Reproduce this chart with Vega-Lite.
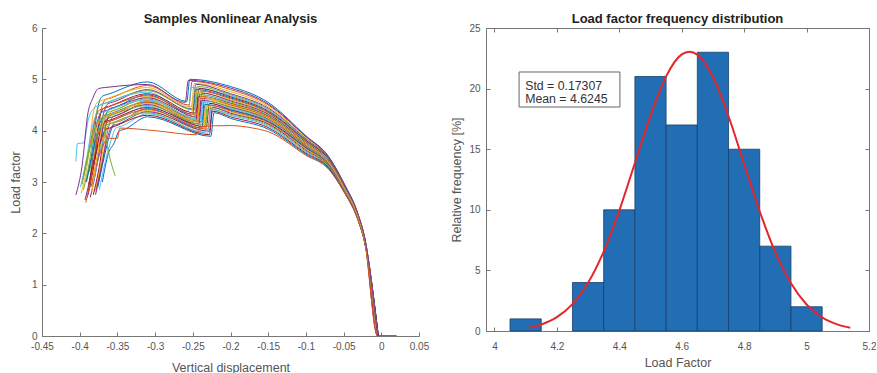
{
"$schema": "https://vega.github.io/schema/vega-lite/v6.json",
"background": "white",
"padding": {"left": 9, "top": 13, "right": 0, "bottom": 0},
"spacing": 67,
"bounds": "flush",
"config": {
  "font": "Liberation Sans",
  "view": {"stroke": null},
  "axis": {"grid": false, "labelFont": "Liberation Sans", "labelFontSize": 10, "labelColor": "#555", "titleFont": "Liberation Sans", "titleFontSize": 12.5, "titleFontWeight": "normal", "titleColor": "#555", "domainColor": "#777", "tickColor": "#777", "tickSize": -4, "labelFlush": false, "labelOverlap": false},
  "title": {"font": "Liberation Sans", "fontSize": 13, "fontWeight": "bold", "color": "#222", "offset": -3}
},
"datasets": {
"curves": [
{"s":1,"x":-0.392,"y":3.0},{"s":1,"x":-0.384,"y":3.55},{"s":1,"x":-0.376,"y":4.45},{"s":1,"x":-0.37,"y":4.67},{"s":1,"x":-0.362,"y":4.71},{"s":1,"x":-0.31,"y":4.95},{"s":1,"x":-0.258,"y":4.57},{"s":1,"x":-0.254,"y":5.0},{"s":1,"x":-0.2,"y":4.86},{"s":1,"x":-0.15,"y":4.55},{"s":1,"x":-0.1,"y":3.9},{"s":1,"x":-0.07,"y":3.5},{"s":1,"x":-0.05,"y":2.99},{"s":1,"x":-0.03,"y":2.34},{"s":1,"x":-0.022,"y":1.92},{"s":1,"x":-0.005,"y":0},
{"s":2,"x":-0.388,"y":2.9},{"s":2,"x":-0.38,"y":3.45},{"s":2,"x":-0.372,"y":4.38},{"s":2,"x":-0.366,"y":4.6},{"s":2,"x":-0.358,"y":4.64},{"s":2,"x":-0.31,"y":4.88},{"s":2,"x":-0.255,"y":4.5},{"s":2,"x":-0.251,"y":4.96},{"s":2,"x":-0.2,"y":4.8},{"s":2,"x":-0.15,"y":4.5},{"s":2,"x":-0.1,"y":3.88},{"s":2,"x":-0.07,"y":3.48},{"s":2,"x":-0.05,"y":2.97},{"s":2,"x":-0.03,"y":2.33},{"s":2,"x":-0.022,"y":1.9},{"s":2,"x":-0.004,"y":0},
{"s":3,"x":-0.398,"y":2.78},{"s":3,"x":-0.39,"y":3.33},{"s":3,"x":-0.382,"y":4.34},{"s":3,"x":-0.376,"y":4.56},{"s":3,"x":-0.368,"y":4.6},{"s":3,"x":-0.31,"y":4.84},{"s":3,"x":-0.252,"y":4.46},{"s":3,"x":-0.248,"y":4.92},{"s":3,"x":-0.2,"y":4.76},{"s":3,"x":-0.15,"y":4.47},{"s":3,"x":-0.1,"y":3.86},{"s":3,"x":-0.07,"y":3.47},{"s":3,"x":-0.05,"y":2.96},{"s":3,"x":-0.03,"y":2.32},{"s":3,"x":-0.022,"y":1.9},{"s":3,"x":-0.005,"y":0},
{"s":4,"x":-0.385,"y":3.1},{"s":4,"x":-0.377,"y":3.65},{"s":4,"x":-0.369,"y":4.3},{"s":4,"x":-0.363,"y":4.52},{"s":4,"x":-0.355,"y":4.56},{"s":4,"x":-0.31,"y":4.8},{"s":4,"x":-0.25,"y":4.42},{"s":4,"x":-0.246,"y":4.9},{"s":4,"x":-0.2,"y":4.72},{"s":4,"x":-0.15,"y":4.44},{"s":4,"x":-0.1,"y":3.84},{"s":4,"x":-0.07,"y":3.46},{"s":4,"x":-0.05,"y":2.95},{"s":4,"x":-0.03,"y":2.31},{"s":4,"x":-0.022,"y":1.89},{"s":4,"x":-0.004,"y":0},
{"s":5,"x":-0.395,"y":2.85},{"s":5,"x":-0.387,"y":3.4},{"s":5,"x":-0.379,"y":4.28},{"s":5,"x":-0.373,"y":4.5},{"s":5,"x":-0.365,"y":4.54},{"s":5,"x":-0.31,"y":4.78},{"s":5,"x":-0.248,"y":4.4},{"s":5,"x":-0.244,"y":4.86},{"s":5,"x":-0.2,"y":4.7},{"s":5,"x":-0.15,"y":4.42},{"s":5,"x":-0.1,"y":3.83},{"s":5,"x":-0.07,"y":3.45},{"s":5,"x":-0.05,"y":2.95},{"s":5,"x":-0.03,"y":2.31},{"s":5,"x":-0.022,"y":1.89},{"s":5,"x":-0.005,"y":0},
{"s":6,"x":-0.405,"y":3.4},{"s":6,"x":-0.403,"y":3.75},{"s":6,"x":-0.395,"y":3.76},{"s":6,"x":-0.388,"y":4.25},{"s":6,"x":-0.38,"y":4.45},{"s":6,"x":-0.372,"y":4.5},{"s":6,"x":-0.31,"y":4.75},{"s":6,"x":-0.256,"y":4.37},{"s":6,"x":-0.252,"y":4.84},{"s":6,"x":-0.2,"y":4.68},{"s":6,"x":-0.15,"y":4.4},{"s":6,"x":-0.1,"y":3.82},{"s":6,"x":-0.07,"y":3.44},{"s":6,"x":-0.05,"y":2.94},{"s":6,"x":-0.03,"y":2.3},{"s":6,"x":-0.022,"y":1.88},{"s":6,"x":-0.006,"y":0},
{"s":7,"x":-0.39,"y":2.7},{"s":7,"x":-0.382,"y":3.25},{"s":7,"x":-0.374,"y":4.22},{"s":7,"x":-0.368,"y":4.44},{"s":7,"x":-0.36,"y":4.48},{"s":7,"x":-0.31,"y":4.72},{"s":7,"x":-0.246,"y":4.34},{"s":7,"x":-0.242,"y":4.82},{"s":7,"x":-0.2,"y":4.66},{"s":7,"x":-0.15,"y":4.38},{"s":7,"x":-0.1,"y":3.81},{"s":7,"x":-0.07,"y":3.44},{"s":7,"x":-0.05,"y":2.94},{"s":7,"x":-0.03,"y":2.3},{"s":7,"x":-0.022,"y":1.88},{"s":7,"x":-0.004,"y":0},{"s":7,"x":0.02,"y":0},
{"s":8,"x":-0.383,"y":2.95},{"s":8,"x":-0.375,"y":3.5},{"s":8,"x":-0.367,"y":4.2},{"s":8,"x":-0.361,"y":4.42},{"s":8,"x":-0.353,"y":4.46},{"s":8,"x":-0.31,"y":4.7},{"s":8,"x":-0.25,"y":4.32},{"s":8,"x":-0.246,"y":4.8},{"s":8,"x":-0.2,"y":4.64},{"s":8,"x":-0.15,"y":4.36},{"s":8,"x":-0.1,"y":3.8},{"s":8,"x":-0.07,"y":3.43},{"s":8,"x":-0.05,"y":2.93},{"s":8,"x":-0.03,"y":2.3},{"s":8,"x":-0.022,"y":1.88},{"s":8,"x":-0.005,"y":0},
{"s":9,"x":-0.396,"y":3.05},{"s":9,"x":-0.388,"y":3.6},{"s":9,"x":-0.38,"y":4.18},{"s":9,"x":-0.374,"y":4.4},{"s":9,"x":-0.366,"y":4.44},{"s":9,"x":-0.31,"y":4.68},{"s":9,"x":-0.244,"y":4.3},{"s":9,"x":-0.24,"y":4.77},{"s":9,"x":-0.2,"y":4.62},{"s":9,"x":-0.15,"y":4.35},{"s":9,"x":-0.1,"y":3.79},{"s":9,"x":-0.07,"y":3.42},{"s":9,"x":-0.05,"y":2.93},{"s":9,"x":-0.03,"y":2.29},{"s":9,"x":-0.022,"y":1.87},{"s":9,"x":-0.005,"y":0},
{"s":10,"x":-0.38,"y":2.8},{"s":10,"x":-0.372,"y":3.35},{"s":10,"x":-0.364,"y":4.16},{"s":10,"x":-0.358,"y":4.38},{"s":10,"x":-0.35,"y":4.42},{"s":10,"x":-0.31,"y":4.66},{"s":10,"x":-0.252,"y":4.28},{"s":10,"x":-0.248,"y":4.75},{"s":10,"x":-0.2,"y":4.6},{"s":10,"x":-0.15,"y":4.33},{"s":10,"x":-0.1,"y":3.78},{"s":10,"x":-0.07,"y":3.42},{"s":10,"x":-0.05,"y":2.92},{"s":10,"x":-0.03,"y":2.29},{"s":10,"x":-0.022,"y":1.87},{"s":10,"x":-0.004,"y":0},
{"s":11,"x":-0.393,"y":2.65},{"s":11,"x":-0.385,"y":3.2},{"s":11,"x":-0.377,"y":4.14},{"s":11,"x":-0.371,"y":4.36},{"s":11,"x":-0.363,"y":4.4},{"s":11,"x":-0.31,"y":4.64},{"s":11,"x":-0.242,"y":4.26},{"s":11,"x":-0.238,"y":4.73},{"s":11,"x":-0.2,"y":4.58},{"s":11,"x":-0.15,"y":4.32},{"s":11,"x":-0.1,"y":3.77},{"s":11,"x":-0.07,"y":3.41},{"s":11,"x":-0.05,"y":2.92},{"s":11,"x":-0.03,"y":2.29},{"s":11,"x":-0.022,"y":1.87},{"s":11,"x":-0.005,"y":0},
{"s":12,"x":-0.387,"y":3.2},{"s":12,"x":-0.379,"y":3.75},{"s":12,"x":-0.371,"y":4.12},{"s":12,"x":-0.365,"y":4.34},{"s":12,"x":-0.357,"y":4.38},{"s":12,"x":-0.31,"y":4.62},{"s":12,"x":-0.248,"y":4.24},{"s":12,"x":-0.244,"y":4.71},{"s":12,"x":-0.2,"y":4.56},{"s":12,"x":-0.15,"y":4.3},{"s":12,"x":-0.1,"y":3.76},{"s":12,"x":-0.07,"y":3.4},{"s":12,"x":-0.05,"y":2.91},{"s":12,"x":-0.03,"y":2.28},{"s":12,"x":-0.022,"y":1.87},{"s":12,"x":-0.006,"y":0},
{"s":13,"x":-0.399,"y":2.9},{"s":13,"x":-0.391,"y":3.45},{"s":13,"x":-0.383,"y":4.1},{"s":13,"x":-0.377,"y":4.32},{"s":13,"x":-0.369,"y":4.36},{"s":13,"x":-0.31,"y":4.6},{"s":13,"x":-0.24,"y":4.22},{"s":13,"x":-0.236,"y":4.69},{"s":13,"x":-0.2,"y":4.54},{"s":13,"x":-0.15,"y":4.29},{"s":13,"x":-0.1,"y":3.75},{"s":13,"x":-0.07,"y":3.4},{"s":13,"x":-0.05,"y":2.91},{"s":13,"x":-0.03,"y":2.28},{"s":13,"x":-0.022,"y":1.86},{"s":13,"x":-0.004,"y":0},
{"s":14,"x":-0.382,"y":2.75},{"s":14,"x":-0.374,"y":3.3},{"s":14,"x":-0.366,"y":4.08},{"s":14,"x":-0.36,"y":4.3},{"s":14,"x":-0.352,"y":4.34},{"s":14,"x":-0.31,"y":4.58},{"s":14,"x":-0.246,"y":4.2},{"s":14,"x":-0.242,"y":4.67},{"s":14,"x":-0.2,"y":4.53},{"s":14,"x":-0.15,"y":4.28},{"s":14,"x":-0.1,"y":3.74},{"s":14,"x":-0.07,"y":3.39},{"s":14,"x":-0.05,"y":2.9},{"s":14,"x":-0.03,"y":2.28},{"s":14,"x":-0.022,"y":1.86},{"s":14,"x":-0.005,"y":0},{"s":14,"x":0.02,"y":0},
{"s":15,"x":-0.391,"y":3.0},{"s":15,"x":-0.383,"y":3.55},{"s":15,"x":-0.375,"y":4.06},{"s":15,"x":-0.369,"y":4.28},{"s":15,"x":-0.361,"y":4.32},{"s":15,"x":-0.31,"y":4.56},{"s":15,"x":-0.238,"y":4.18},{"s":15,"x":-0.234,"y":4.65},{"s":15,"x":-0.2,"y":4.51},{"s":15,"x":-0.15,"y":4.26},{"s":15,"x":-0.1,"y":3.73},{"s":15,"x":-0.07,"y":3.38},{"s":15,"x":-0.05,"y":2.9},{"s":15,"x":-0.03,"y":2.27},{"s":15,"x":-0.022,"y":1.86},{"s":15,"x":-0.005,"y":0},
{"s":16,"x":-0.378,"y":2.85},{"s":16,"x":-0.37,"y":3.4},{"s":16,"x":-0.362,"y":4.05},{"s":16,"x":-0.356,"y":4.27},{"s":16,"x":-0.348,"y":4.31},{"s":16,"x":-0.31,"y":4.55},{"s":16,"x":-0.244,"y":4.17},{"s":16,"x":-0.24,"y":4.63},{"s":16,"x":-0.2,"y":4.5},{"s":16,"x":-0.15,"y":4.25},{"s":16,"x":-0.1,"y":3.72},{"s":16,"x":-0.07,"y":3.38},{"s":16,"x":-0.05,"y":2.89},{"s":16,"x":-0.03,"y":2.27},{"s":16,"x":-0.022,"y":1.86},{"s":16,"x":-0.004,"y":0},
{"s":17,"x":-0.394,"y":3.15},{"s":17,"x":-0.386,"y":3.7},{"s":17,"x":-0.378,"y":4.03},{"s":17,"x":-0.372,"y":4.25},{"s":17,"x":-0.364,"y":4.29},{"s":17,"x":-0.31,"y":4.53},{"s":17,"x":-0.236,"y":4.15},{"s":17,"x":-0.232,"y":4.61},{"s":17,"x":-0.2,"y":4.48},{"s":17,"x":-0.15,"y":4.24},{"s":17,"x":-0.1,"y":3.71},{"s":17,"x":-0.07,"y":3.37},{"s":17,"x":-0.05,"y":2.89},{"s":17,"x":-0.03,"y":2.27},{"s":17,"x":-0.022,"y":1.85},{"s":17,"x":-0.005,"y":0},
{"s":18,"x":-0.386,"y":2.7},{"s":18,"x":-0.378,"y":3.25},{"s":18,"x":-0.37,"y":4.01},{"s":18,"x":-0.364,"y":4.23},{"s":18,"x":-0.356,"y":4.27},{"s":18,"x":-0.31,"y":4.51},{"s":18,"x":-0.242,"y":4.13},{"s":18,"x":-0.238,"y":4.59},{"s":18,"x":-0.2,"y":4.46},{"s":18,"x":-0.15,"y":4.22},{"s":18,"x":-0.1,"y":3.7},{"s":18,"x":-0.07,"y":3.36},{"s":18,"x":-0.05,"y":2.88},{"s":18,"x":-0.03,"y":2.26},{"s":18,"x":-0.022,"y":1.85},{"s":18,"x":-0.006,"y":0},
{"s":19,"x":-0.397,"y":2.95},{"s":19,"x":-0.389,"y":3.5},{"s":19,"x":-0.381,"y":3.99},{"s":19,"x":-0.375,"y":4.21},{"s":19,"x":-0.367,"y":4.25},{"s":19,"x":-0.31,"y":4.49},{"s":19,"x":-0.234,"y":4.11},{"s":19,"x":-0.23,"y":4.57},{"s":19,"x":-0.2,"y":4.45},{"s":19,"x":-0.15,"y":4.21},{"s":19,"x":-0.1,"y":3.69},{"s":19,"x":-0.07,"y":3.36},{"s":19,"x":-0.05,"y":2.88},{"s":19,"x":-0.03,"y":2.26},{"s":19,"x":-0.022,"y":1.85},{"s":19,"x":-0.004,"y":0},
{"s":20,"x":-0.381,"y":3.05},{"s":20,"x":-0.373,"y":3.6},{"s":20,"x":-0.365,"y":3.97},{"s":20,"x":-0.359,"y":4.19},{"s":20,"x":-0.351,"y":4.23},{"s":20,"x":-0.31,"y":4.47},{"s":20,"x":-0.24,"y":4.09},{"s":20,"x":-0.236,"y":4.55},{"s":20,"x":-0.2,"y":4.43},{"s":20,"x":-0.15,"y":4.2},{"s":20,"x":-0.1,"y":3.68},{"s":20,"x":-0.07,"y":3.35},{"s":20,"x":-0.05,"y":2.87},{"s":20,"x":-0.03,"y":2.26},{"s":20,"x":-0.022,"y":1.85},{"s":20,"x":-0.005,"y":0},
{"s":21,"x":-0.389,"y":2.8},{"s":21,"x":-0.381,"y":3.35},{"s":21,"x":-0.373,"y":3.95},{"s":21,"x":-0.367,"y":4.17},{"s":21,"x":-0.359,"y":4.21},{"s":21,"x":-0.31,"y":4.45},{"s":21,"x":-0.232,"y":4.07},{"s":21,"x":-0.228,"y":4.53},{"s":21,"x":-0.2,"y":4.41},{"s":21,"x":-0.15,"y":4.18},{"s":21,"x":-0.1,"y":3.67},{"s":21,"x":-0.07,"y":3.34},{"s":21,"x":-0.05,"y":2.87},{"s":21,"x":-0.03,"y":2.25},{"s":21,"x":-0.022,"y":1.84},{"s":21,"x":-0.005,"y":0},
{"s":22,"x":-0.376,"y":2.9},{"s":22,"x":-0.368,"y":3.45},{"s":22,"x":-0.36,"y":3.93},{"s":22,"x":-0.354,"y":4.15},{"s":22,"x":-0.346,"y":4.19},{"s":22,"x":-0.31,"y":4.43},{"s":22,"x":-0.238,"y":4.05},{"s":22,"x":-0.234,"y":4.51},{"s":22,"x":-0.2,"y":4.4},{"s":22,"x":-0.15,"y":4.17},{"s":22,"x":-0.1,"y":3.66},{"s":22,"x":-0.07,"y":3.34},{"s":22,"x":-0.05,"y":2.86},{"s":22,"x":-0.03,"y":2.25},{"s":22,"x":-0.022,"y":1.84},{"s":22,"x":-0.004,"y":0},
{"s":23,"x":-0.392,"y":2.6},{"s":23,"x":-0.384,"y":3.15},{"s":23,"x":-0.376,"y":3.91},{"s":23,"x":-0.37,"y":4.13},{"s":23,"x":-0.362,"y":4.17},{"s":23,"x":-0.31,"y":4.41},{"s":23,"x":-0.23,"y":4.03},{"s":23,"x":-0.226,"y":4.49},{"s":23,"x":-0.2,"y":4.38},{"s":23,"x":-0.15,"y":4.16},{"s":23,"x":-0.1,"y":3.65},{"s":23,"x":-0.07,"y":3.33},{"s":23,"x":-0.05,"y":2.86},{"s":23,"x":-0.03,"y":2.25},{"s":23,"x":-0.022,"y":1.84},{"s":23,"x":-0.005,"y":0},
{"s":24,"x":-0.384,"y":3.0},{"s":24,"x":-0.376,"y":3.55},{"s":24,"x":-0.368,"y":3.89},{"s":24,"x":-0.362,"y":4.11},{"s":24,"x":-0.354,"y":4.15},{"s":24,"x":-0.31,"y":4.39},{"s":24,"x":-0.236,"y":4.01},{"s":24,"x":-0.232,"y":4.47},{"s":24,"x":-0.2,"y":4.36},{"s":24,"x":-0.15,"y":4.14},{"s":24,"x":-0.1,"y":3.64},{"s":24,"x":-0.07,"y":3.32},{"s":24,"x":-0.05,"y":2.85},{"s":24,"x":-0.03,"y":2.24},{"s":24,"x":-0.022,"y":1.84},{"s":24,"x":-0.006,"y":0},
{"s":25,"x":-0.379,"y":2.75},{"s":25,"x":-0.371,"y":3.3},{"s":25,"x":-0.363,"y":3.87},{"s":25,"x":-0.357,"y":4.09},{"s":25,"x":-0.349,"y":4.13},{"s":25,"x":-0.31,"y":4.37},{"s":25,"x":-0.228,"y":3.99},{"s":25,"x":-0.224,"y":4.45},{"s":25,"x":-0.2,"y":4.34},{"s":25,"x":-0.15,"y":4.13},{"s":25,"x":-0.1,"y":3.62},{"s":25,"x":-0.07,"y":3.31},{"s":25,"x":-0.05,"y":2.85},{"s":25,"x":-0.03,"y":2.24},{"s":25,"x":-0.022,"y":1.83},{"s":25,"x":-0.004,"y":0},
{"s":26,"x":-0.395,"y":3.1},{"s":26,"x":-0.387,"y":3.65},{"s":26,"x":-0.379,"y":3.85},{"s":26,"x":-0.373,"y":4.07},{"s":26,"x":-0.365,"y":4.11},{"s":26,"x":-0.31,"y":4.35},{"s":26,"x":-0.234,"y":3.97},{"s":26,"x":-0.23,"y":4.43},{"s":26,"x":-0.2,"y":4.32},{"s":26,"x":-0.15,"y":4.11},{"s":26,"x":-0.1,"y":3.6},{"s":26,"x":-0.07,"y":3.3},{"s":26,"x":-0.05,"y":2.84},{"s":26,"x":-0.03,"y":2.24},{"s":26,"x":-0.022,"y":1.83},{"s":26,"x":-0.005,"y":0},
{"s":27,"x":-0.374,"y":2.85},{"s":27,"x":-0.366,"y":3.4},{"s":27,"x":-0.358,"y":3.83},{"s":27,"x":-0.352,"y":4.05},{"s":27,"x":-0.344,"y":4.09},{"s":27,"x":-0.31,"y":4.33},{"s":27,"x":-0.23,"y":3.95},{"s":27,"x":-0.226,"y":4.41},{"s":27,"x":-0.2,"y":4.3},{"s":27,"x":-0.15,"y":4.09},{"s":27,"x":-0.1,"y":3.58},{"s":27,"x":-0.07,"y":3.29},{"s":27,"x":-0.05,"y":2.84},{"s":27,"x":-0.03,"y":2.23},{"s":27,"x":-0.022,"y":1.83},{"s":27,"x":-0.005,"y":0},
{"s":28,"x":-0.388,"y":2.95},{"s":28,"x":-0.38,"y":3.5},{"s":28,"x":-0.372,"y":3.8},{"s":28,"x":-0.366,"y":4.02},{"s":28,"x":-0.358,"y":4.06},{"s":28,"x":-0.31,"y":4.3},{"s":28,"x":-0.228,"y":3.92},{"s":28,"x":-0.224,"y":4.38},{"s":28,"x":-0.2,"y":4.27},{"s":28,"x":-0.15,"y":4.06},{"s":28,"x":-0.1,"y":3.56},{"s":28,"x":-0.07,"y":3.28},{"s":28,"x":-0.05,"y":2.83},{"s":28,"x":-0.03,"y":2.23},{"s":28,"x":-0.022,"y":1.82},{"s":28,"x":-0.004,"y":0},
{"s":29,"x":-0.37,"y":3.0},{"s":29,"x":-0.362,"y":3.55},{"s":29,"x":-0.354,"y":3.77},{"s":29,"x":-0.348,"y":3.99},{"s":29,"x":-0.34,"y":4.03},{"s":29,"x":-0.31,"y":4.27},{"s":29,"x":-0.226,"y":3.89},{"s":29,"x":-0.222,"y":4.35},{"s":29,"x":-0.2,"y":4.24},{"s":29,"x":-0.15,"y":4.03},{"s":29,"x":-0.1,"y":3.54},{"s":29,"x":-0.07,"y":3.26},{"s":29,"x":-0.05,"y":2.82},{"s":29,"x":-0.03,"y":2.22},{"s":29,"x":-0.022,"y":1.82},{"s":29,"x":-0.005,"y":0},
{"s":30,"x":-0.385,"y":2.9},{"s":30,"x":-0.372,"y":3.6},{"s":30,"x":-0.362,"y":3.85},{"s":30,"x":-0.35,"y":3.85},{"s":30,"x":-0.347,"y":4.05},{"s":30,"x":-0.3,"y":4.0},{"s":30,"x":-0.245,"y":3.92},{"s":30,"x":-0.24,"y":4.08},{"s":30,"x":-0.2,"y":4.1},{"s":30,"x":-0.17,"y":4.05},{"s":30,"x":-0.15,"y":3.98},{"s":30,"x":-0.1,"y":3.52},{"s":30,"x":-0.07,"y":3.25},{"s":30,"x":-0.05,"y":2.82},{"s":30,"x":-0.03,"y":2.22},{"s":30,"x":-0.022,"y":1.82},{"s":30,"x":-0.005,"y":0},{"s":30,"x":0.02,"y":0},
{"s":31,"x":-0.384,"y":2.8},{"s":31,"x":-0.377,"y":3.5},{"s":31,"x":-0.37,"y":4.1},{"s":31,"x":-0.362,"y":4.3},{"s":31,"x":-0.354,"y":4.34},{"s":31,"x":-0.31,"y":4.58},{"s":31,"x":-0.244,"y":4.2},{"s":31,"x":-0.24,"y":4.66},{"s":31,"x":-0.2,"y":4.52},{"s":31,"x":-0.15,"y":4.27},{"s":31,"x":-0.1,"y":3.74},{"s":31,"x":-0.07,"y":3.39},{"s":31,"x":-0.05,"y":2.9},{"s":31,"x":-0.03,"y":2.28},{"s":31,"x":-0.022,"y":1.86},{"s":31,"x":-0.005,"y":0},
{"s":32,"x":-0.405,"y":2.75},{"s":32,"x":-0.397,"y":3.3},{"s":32,"x":-0.389,"y":4.35},{"s":32,"x":-0.383,"y":4.62},{"s":32,"x":-0.375,"y":4.82},{"s":32,"x":-0.36,"y":4.85},{"s":32,"x":-0.31,"y":4.9},{"s":32,"x":-0.26,"y":4.55},{"s":32,"x":-0.256,"y":4.98},{"s":32,"x":-0.2,"y":4.83},{"s":32,"x":-0.15,"y":4.52},{"s":32,"x":-0.1,"y":3.89},{"s":32,"x":-0.07,"y":3.49},{"s":32,"x":-0.05,"y":2.98},{"s":32,"x":-0.03,"y":2.33},{"s":32,"x":-0.022,"y":1.91},{"s":32,"x":-0.005,"y":0},
{"s":33,"x":-0.368,"y":4.1},{"s":33,"x":-0.362,"y":3.6},{"s":33,"x":-0.353,"y":3.12}
],
"hist": [
{"lo":4.05,"hi":4.15,"pct":1},{"lo":4.25,"hi":4.35,"pct":4},{"lo":4.35,"hi":4.45,"pct":10},{"lo":4.45,"hi":4.55,"pct":21},{"lo":4.55,"hi":4.65,"pct":17},{"lo":4.65,"hi":4.75,"pct":23},{"lo":4.75,"hi":4.85,"pct":15},{"lo":4.85,"hi":4.95,"pct":7},{"lo":4.95,"hi":5.05,"pct":2}
],
"normal": [
{"lf":4.11,"f":0.278},{"lf":4.15,"f":0.538},{"lf":4.2,"f":1.138},{"lf":4.25,"f":2.218},{"lf":4.3,"f":3.974},{"lf":4.35,"f":6.553},{"lf":4.4,"f":9.937},{"lf":4.45,"f":13.865},{"lf":4.5,"f":17.795},{"lf":4.55,"f":21.01},{"lf":4.6,"f":22.82},{"lf":4.6245,"f":23.05},{"lf":4.65,"f":22.8},{"lf":4.7,"f":20.96},{"lf":4.75,"f":17.72},{"lf":4.8,"f":13.78},{"lf":4.85,"f":9.863},{"lf":4.9,"f":6.494},{"lf":4.95,"f":3.932},{"lf":5.0,"f":2.19},{"lf":5.05,"f":1.122},{"lf":5.1,"f":0.529},{"lf":5.14,"f":0.273}
]
},
"hconcat": [
{
  "width": 377, "height": 308,
  "title": "Samples Nonlinear Analysis",
  "data": {"name": "curves"},
  "mark": {"type": "line", "strokeWidth": 1, "clip": true, "interpolate": "monotone"},
  "encoding": {
    "x": {"field": "x", "type": "quantitative", "scale": {"domain": [-0.45, 0.05], "nice": false, "zero": false},
      "axis": {"title": "Vertical displacement", "values": [-0.45,-0.4,-0.35,-0.3,-0.25,-0.2,-0.15,-0.1,-0.05,0,0.05], "labelExpr": "replace(format(datum.value, '~g'), '\u2212', '-')", "labelPadding": 9, "titlePadding": 10}},
    "y": {"field": "y", "type": "quantitative", "scale": {"domain": [0, 6], "nice": false},
      "axis": {"title": "Load factor", "values": [0,1,2,3,4,5,6], "labelPadding": 9, "titlePadding": 9}},
    "color": {"field": "s", "type": "nominal", "legend": null, "scale": {"range": ["#0072BD","#D95319","#EDB120","#7E2F8E","#77AC30","#4DBEEE","#A2142F"]}},
    "order": {"value": null}
  }
},
{
  "width": 383, "height": 303,
  "title": "Load factor frequency distribution",
  "resolve": {"axis": {"x": "independent", "y": "independent"}},
  "layer": [
    {
      "data": {"name": "hist"},
      "mark": {"type": "bar", "fill": "#216eb4", "stroke": "#1b3f6a", "strokeWidth": 0.8},
      "encoding": {
        "x": {"field": "lo", "type": "quantitative", "scale": {"domain": [3.973, 5.2], "nice": false, "zero": false},
          "axis": {"title": "Load Factor", "orient": "bottom", "values": [4,4.2,4.4,4.6,4.8,5,5.2], "labelExpr": "format(datum.value, '~g')", "labelPadding": 14, "titlePadding": 5}},
        "x2": {"field": "hi"},
        "y": {"field": "pct", "type": "quantitative", "scale": {"domain": [0, 25], "nice": false},
          "axis": {"title": "Relative frequency [%]", "orient": "left", "values": [0,5,10,15,20,25], "labelPadding": 10, "titlePadding": 5}},
        "y2": {"datum": 0}
      }
    },
    {
      "data": {"name": "normal"},
      "mark": {"type": "line", "stroke": "#e3262b", "strokeWidth": 2, "interpolate": "monotone"},
      "encoding": {
        "x": {"field": "lf", "type": "quantitative", "scale": {"domain": [3.973, 5.2], "nice": false, "zero": false},
          "axis": {"orient": "top", "title": null, "labels": false, "values": [4,4.2,4.4,4.6,4.8,5,5.2]}},
        "y": {"field": "f", "type": "quantitative", "scale": {"domain": [0, 25], "nice": false},
          "axis": {"orient": "right", "title": null, "labels": false, "values": [0,5,10,15,20,25]}}
      }
    },
    {
      "data": {"values": [{}]},
      "mark": {"type": "rect", "fill": "white", "stroke": "#666", "strokeWidth": 1},
      "encoding": {
        "x": {"datum": 4.079, "type": "quantitative", "axis": null},
        "x2": {"datum": 4.402},
        "y": {"datum": 21.37, "type": "quantitative", "axis": null},
        "y2": {"datum": 18.48}
      }
    },
    {
      "data": {"values": [{}]},
      "mark": {"type": "text", "align": "left", "baseline": "middle", "fontSize": 12.3, "lineHeight": 13, "color": "#333", "font": "Liberation Sans", "text": ["Std = 0.17307", "Mean = 4.6245"]},
      "encoding": {
        "x": {"datum": 4.0985, "type": "quantitative", "axis": null},
        "y": {"datum": 20.21, "type": "quantitative", "axis": null}
      }
    }
  ]
}
]
}
